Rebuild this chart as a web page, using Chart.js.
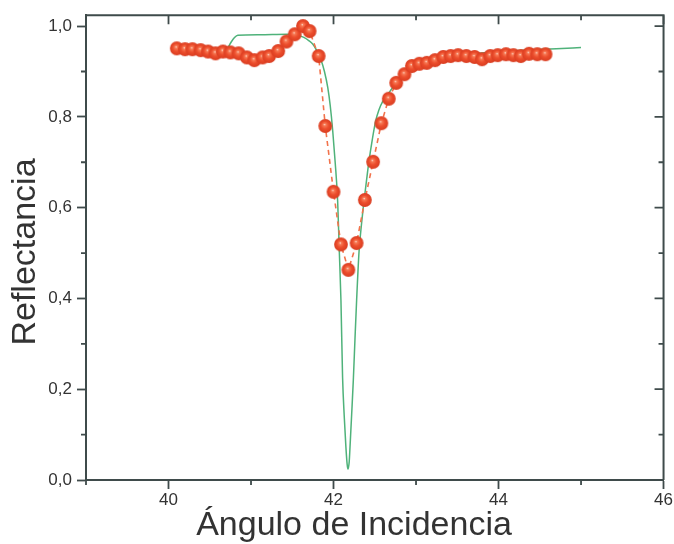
<!DOCTYPE html>
<html lang="es">
<head>
<meta charset="utf-8">
<title>Reflectancia vs. ángulo de incidencia</title>
<script src="https://cdn.jsdelivr.net/npm/chart.js@4/dist/chart.umd.min.js"></script>
<style>
  html, body { margin: 0; padding: 0; background: #ffffff; }
  #wrap { width: 674px; height: 544px; }
</style>
</head>
<body>
<div id="wrap"><canvas id="chart" width="674" height="544"></canvas></div>
<script>
// Measured reflectance (red spheres, dashed)
const medidoAngulo = [40.10, 40.20, 40.29, 40.39, 40.48, 40.57, 40.66, 40.75, 40.85, 40.95,
                      41.04, 41.14, 41.22, 41.33, 41.43, 41.53, 41.63, 41.71, 41.82, 41.90,
                      42.00, 42.09, 42.18, 42.28, 42.38, 42.48, 42.58, 42.67, 42.76, 42.86,
                      42.95, 43.04, 43.13, 43.23, 43.33, 43.42, 43.51, 43.61, 43.71, 43.80,
                      43.90, 43.99, 44.09, 44.18, 44.27, 44.37, 44.47, 44.57];
const medidoReflect = [0.951, 0.949, 0.949, 0.947, 0.944, 0.940, 0.944, 0.942, 0.940, 0.931,
                       0.925, 0.931, 0.934, 0.945, 0.966, 0.982, 1.000, 0.989, 0.934, 0.780,
                       0.635, 0.519, 0.463, 0.522, 0.617, 0.701, 0.786, 0.840, 0.875, 0.894,
                       0.912, 0.917, 0.919, 0.925, 0.932, 0.934, 0.936, 0.934, 0.932, 0.927,
                       0.934, 0.936, 0.938, 0.936, 0.934, 0.939, 0.938, 0.938];

// Theoretical curve (green line)
const teoricoAngulo = [40.72, 40.76, 40.80, 40.84, 41.10, 41.43, 41.58, 41.64, 41.70, 41.75,
                       41.80, 41.85, 41.89, 41.93, 41.96, 41.99, 42.02, 42.05, 42.07, 42.09,
                       42.11, 42.13, 42.15, 42.165, 42.175, 42.19, 42.20, 42.22, 42.24, 42.26,
                       42.28, 42.31, 42.34, 42.37, 42.40, 42.43, 42.47, 42.51, 42.55, 42.60,
                       42.68, 42.76, 42.86, 43.00, 43.20, 43.45, 43.75, 44.10, 44.40, 44.70, 45.00];
const teoricoReflect = [0.952, 0.965, 0.975, 0.980, 0.981, 0.982, 0.979, 0.975, 0.968, 0.960,
                        0.945, 0.925, 0.900, 0.865, 0.825, 0.770, 0.700, 0.615, 0.505, 0.396,
                        0.225, 0.140, 0.073, 0.035, 0.024, 0.040, 0.073, 0.145, 0.220, 0.310,
                        0.396, 0.505, 0.565, 0.615, 0.660, 0.703, 0.750, 0.790, 0.815, 0.835,
                        0.855, 0.875, 0.893, 0.910, 0.924, 0.934, 0.940, 0.945, 0.948, 0.950, 0.953];

// Axis ticks and their labels
const xTickValues = [40, 42, 44, 46];
const xTickLabels = ['40', '42', '44', '46'];
const yTickValues = [0.0, 0.2, 0.4, 0.6, 0.8, 1.0];
const yTickLabels = ['0,0', '0,2', '0,4', '0,6', '0,8', '1,0'];

const AXIS_COLOR = '#3f4b4b';
const TEXT_COLOR = '#333333';
const FONT_FAMILY = '"Liberation Sans", Arial, sans-serif';

const near = (a, b) => Math.abs(a - b) < 1e-6;
const xMajorIndex = v => xTickValues.findIndex(t => near(t, v));
const yMajorIndex = v => yTickValues.findIndex(t => near(t, v));

// Shaded sphere used as the marker of the measured points
function makeSphere(r) {
  const size = Math.ceil(r * 2) + 2;
  const c = document.createElement('canvas');
  c.width = size; c.height = size;
  const g = c.getContext('2d');
  const cx = size / 2, cy = size / 2;
  const grad = g.createRadialGradient(cx - 0.8, cy - 1.6, 0, cx, cy, r);
  grad.addColorStop(0.0, '#ffe6dc');
  grad.addColorStop(0.18, '#f77a55');
  grad.addColorStop(0.55, '#ec4d2c');
  grad.addColorStop(1.0, '#d93d21');
  g.fillStyle = grad;
  g.beginPath();
  g.arc(cx, cy, r, 0, Math.PI * 2);
  g.fill();
  return c;
}
const sphere = makeSphere(6.9);

// Frame, minor/mirrored ticks and axis titles
const frameAndTitles = {
  id: 'frameAndTitles',
  afterDraw(chart) {
    const { ctx, chartArea: a, scales: { x, y } } = chart;
    ctx.save();
    ctx.strokeStyle = AXIS_COLOR;
    ctx.lineWidth = 2;
    ctx.beginPath();
    ctx.moveTo(a.left, a.top);
    ctx.lineTo(a.right, a.top);
    ctx.lineTo(a.right, a.bottom);
    ctx.stroke();

    ctx.lineWidth = 1.8;
    ctx.beginPath();
    x.ticks.forEach(t => {
      const px = x.getPixelForValue(t.value);
      const major = xMajorIndex(t.value) >= 0;
      if (!major) { ctx.moveTo(px, a.bottom); ctx.lineTo(px, a.bottom + 5); }
      ctx.moveTo(px, a.top); ctx.lineTo(px, a.top + (major ? 9 : 5));
    });
    y.ticks.forEach(t => {
      const py = y.getPixelForValue(t.value);
      const major = yMajorIndex(t.value) >= 0;
      if (!major) { ctx.moveTo(a.left, py); ctx.lineTo(a.left - 5, py); }
      ctx.moveTo(a.right, py); ctx.lineTo(a.right - (major ? 9 : 5), py);
    });
    ctx.stroke();

    ctx.fillStyle = TEXT_COLOR;
    ctx.font = '34px ' + FONT_FAMILY;
    ctx.textAlign = 'center';
    ctx.textBaseline = 'middle';
    ctx.fillText('Ángulo de Incidencia', 354, 526);
    ctx.translate(26, 252);
    ctx.rotate(-Math.PI / 2);
    ctx.fillText('Reflectancia', 0, 0);
    ctx.restore();
  }
};

const medido = medidoAngulo.map((v, i) => ({ x: v, y: medidoReflect[i] }));
const teorico = teoricoAngulo.map((v, i) => ({ x: v, y: teoricoReflect[i] }));

new Chart(document.getElementById('chart'), {
  type: 'scatter',
  data: {
    datasets: [
      {
        label: 'Medido',
        data: medido,
        showLine: true,
        borderColor: '#f2734c',
        borderWidth: 1.6,
        borderDash: [5, 4],
        tension: 0,
        pointStyle: sphere,
        pointRadius: 7,
        clip: false
      },
      {
        label: 'Teórico',
        data: teorico,
        showLine: true,
        borderColor: '#4fb27a',
        borderWidth: 1.5,
        pointRadius: 0,
        cubicInterpolationMode: 'monotone',
        clip: false
      }
    ]
  },
  options: {
    responsive: false,
    animation: false,
    layout: { padding: { top: 14, right: 9, left: 0, bottom: 0 } },
    plugins: { legend: { display: false }, tooltip: { enabled: false } },
    scales: {
      x: {
        type: 'linear',
        min: 39,
        max: 46,
        afterFit: s => { s.height = 64; },
        border: { color: AXIS_COLOR, width: 2 },
        grid: {
          drawOnChartArea: false,
          drawTicks: true,
          tickLength: 9,
          tickWidth: 1.8,
          tickColor: c => (c.tick && xMajorIndex(c.tick.value) >= 0) ? AXIS_COLOR : 'rgba(0,0,0,0)'
        },
        ticks: {
          stepSize: 1,
          autoSkip: false,
          maxRotation: 0,
          includeBounds: false,
          padding: 1,
          color: TEXT_COLOR,
          font: { family: FONT_FAMILY, size: 17 },
          callback: v => { const i = xMajorIndex(v); return i >= 0 ? xTickLabels[i] : ''; }
        },
        title: { display: false }
      },
      y: {
        type: 'linear',
        min: 0,
        max: 1.024,
        afterFit: s => { s.width = 86; },
        border: { color: AXIS_COLOR, width: 2 },
        grid: {
          drawOnChartArea: false,
          drawTicks: true,
          tickLength: 9,
          tickWidth: 1.8,
          tickColor: c => (c.tick && yMajorIndex(c.tick.value) >= 0) ? AXIS_COLOR : 'rgba(0,0,0,0)'
        },
        ticks: {
          stepSize: 0.1,
          autoSkip: false,
          includeBounds: false,
          padding: 5,
          color: TEXT_COLOR,
          font: { family: FONT_FAMILY, size: 17 },
          callback: v => { const i = yMajorIndex(v); return i >= 0 ? yTickLabels[i] : ''; }
        },
        title: { display: false }
      }
    }
  },
  plugins: [frameAndTitles]
});
</script>
</body>
</html>
